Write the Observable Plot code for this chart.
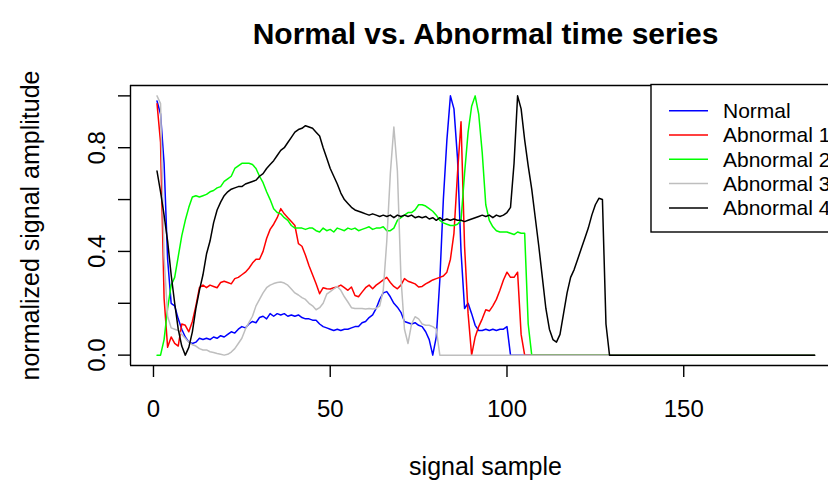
<!DOCTYPE html>
<html><head><meta charset="utf-8">
<script src="https://cdn.jsdelivr.net/npm/d3@7"></script>
<script src="https://cdn.jsdelivr.net/npm/@observablehq/plot@0.6"></script>
<style>
html,body{margin:0;padding:0;background:#fff;}
#chart{width:828px;height:491px;overflow:hidden;}
</style></head><body><div id="chart"></div>
<script>
const normal = [
0.98,0.93,0.74,0.37,0.20,0.19,0.14,0.10,0.07,0.05,
0.045,0.05,0.065,0.06,0.065,0.06,0.07,0.065,0.075,0.07,
0.08,0.09,0.085,0.10,0.11,0.105,0.12,0.13,0.125,0.145,
0.15,0.14,0.16,0.15,0.16,0.155,0.16,0.15,0.155,0.15,
0.155,0.145,0.14,0.14,0.135,0.135,0.12,0.11,0.105,0.10,
0.095,0.10,0.095,0.10,0.10,0.105,0.11,0.11,0.125,0.13,
0.145,0.155,0.18,0.215,0.24,0.245,0.225,0.20,0.185,0.165,
0.13,0.125,0.12,0.125,0.115,0.11,0.09,0.06,0.0,0.07,
0.29,0.60,0.83,1.0,0.95,0.76,0.40,0.18,0.20,0.16,
0.115,0.095,0.095,0.10,0.095,0.10,0.095,0.10,0.10,0.11,
0,0,0,0,0,0,0,0,0,0,
0,0,0,0,0,0,0,0,0,0,
0,0,0,0,0,0,0,0,0,0,
0,0,0,0,0,0,0,0,0,0,
0,0,0,0,0,0,0,0,0,0,
0,0,0,0,0,0,0,0,0,0,
0,0,0,0,0,0,0,0,0,0,
0,0,0,0,0,0,0,0,0,0,
0,0,0,0,0,0,0
];
const abnormal1 = [
0.97,0.82,0.22,0.03,0.07,0.045,0.035,0.12,0.115,0.09,
0.13,0.19,0.26,0.27,0.26,0.27,0.265,0.26,0.28,0.285,
0.28,0.275,0.295,0.30,0.31,0.32,0.335,0.355,0.37,0.37,
0.40,0.45,0.485,0.505,0.53,0.565,0.545,0.53,0.515,0.50,
0.43,0.42,0.385,0.345,0.31,0.275,0.237,0.26,0.256,0.255,
0.26,0.263,0.27,0.26,0.25,0.263,0.23,0.225,0.243,0.26,
0.27,0.256,0.27,0.28,0.29,0.30,0.28,0.265,0.256,0.27,
0.295,0.285,0.28,0.275,0.263,0.265,0.275,0.282,0.29,0.295,
0.30,0.305,0.32,0.37,0.47,0.70,0.90,0.42,0.16,0.0,
0.07,0.11,0.14,0.175,0.17,0.19,0.215,0.25,0.29,0.32,
0.30,0.30,0.32,0.08,0,0,0,0,0,0,
0,0,0,0,0,0,0,0,0,0,
0,0,0,0,0,0,0,0,0,0,
0,0,0,0,0,0,0,0,0,0,
0,0,0,0,0,0,0,0,0,0,
0,0,0,0,0,0,0,0,0,0,
0,0,0,0,0,0,0,0,0,0,
0,0,0,0,0,0,0,0,0,0,
0,0,0,0,0,0,0
];
const abnormal2 = [
0.0,0.0,0.06,0.18,0.27,0.30,0.38,0.46,0.52,0.57,
0.61,0.615,0.61,0.615,0.62,0.63,0.635,0.645,0.65,0.67,
0.68,0.69,0.72,0.73,0.74,0.74,0.74,0.735,0.72,0.69,
0.665,0.63,0.60,0.565,0.55,0.545,0.53,0.52,0.50,0.49,
0.49,0.49,0.485,0.49,0.49,0.48,0.475,0.49,0.48,0.485,
0.475,0.49,0.485,0.48,0.49,0.485,0.49,0.48,0.485,0.49,
0.495,0.485,0.49,0.49,0.495,0.48,0.48,0.49,0.52,0.53,
0.54,0.55,0.55,0.56,0.58,0.58,0.575,0.565,0.555,0.54,
0.52,0.51,0.505,0.50,0.50,0.505,0.52,0.70,0.86,0.96,
1.0,0.93,0.78,0.58,0.52,0.495,0.48,0.475,0.475,0.475,
0.47,0.465,0.475,0.47,0.47,0.12,0,0,0,0,
0,0,0,0,0,0,0,0,0,0,
0,0,0,0,0,0,0,0,0,0,
0,0,0,0,0,0,0,0,0,0,
0,0,0,0,0,0,0,0,0,0,
0,0,0,0,0,0,0,0,0,0,
0,0,0,0,0,0,0,0,0,0,
0,0,0,0,0,0,0,0,0,0,
0,0,0,0,0,0,0
];
const abnormal3 = [
1.0,0.97,0.38,0.15,0.105,0.10,0.095,0.08,0.065,0.05,
0.04,0.035,0.025,0.02,0.02,0.013,0.01,0.006,0.003,0.0,
0.003,0.012,0.025,0.045,0.065,0.10,0.125,0.15,0.19,0.215,
0.24,0.26,0.27,0.276,0.28,0.282,0.278,0.27,0.255,0.24,
0.232,0.222,0.215,0.20,0.19,0.175,0.183,0.20,0.235,0.245,
0.255,0.265,0.25,0.225,0.205,0.183,0.18,0.18,0.18,0.178,
0.18,0.178,0.18,0.19,0.25,0.44,0.70,0.88,0.71,0.30,
0.10,0.045,0.12,0.148,0.14,0.12,0.115,0.115,0.11,0.10,
0,0,0,0,0,0,0,0,0,0,
0,0,0,0,0,0,0,0,0,0,
0,0,0,0,0,0,0,0,0,0,
0,0,0,0,0,0,0,0,0,0,
0,0,0,0,0,0,0,0,0,0,
0,0,0,0,0,0,0,0,0,0,
0,0,0,0,0,0,0,0,0,0,
0,0,0,0,0,0,0,0,0,0,
0,0,0,0,0,0,0,0,0,0,
0,0,0,0,0,0,0,0,0,0,
0,0,0,0,0,0,0
];
const abnormal4 = [
0.71,0.63,0.54,0.44,0.31,0.20,0.10,0.035,0.0,0.03,
0.09,0.18,0.25,0.31,0.39,0.44,0.51,0.56,0.59,0.615,
0.63,0.64,0.645,0.65,0.65,0.66,0.665,0.67,0.675,0.69,
0.70,0.72,0.735,0.75,0.77,0.79,0.80,0.82,0.84,0.86,
0.87,0.875,0.885,0.88,0.875,0.86,0.845,0.80,0.76,0.72,
0.69,0.66,0.625,0.60,0.585,0.57,0.56,0.555,0.55,0.545,
0.54,0.545,0.54,0.535,0.54,0.535,0.54,0.53,0.54,0.535,
0.54,0.535,0.54,0.53,0.535,0.53,0.535,0.525,0.53,0.52,
0.53,0.52,0.525,0.52,0.525,0.52,0.52,0.515,0.52,0.525,
0.53,0.535,0.54,0.535,0.54,0.53,0.54,0.535,0.54,0.55,
0.57,0.74,1.0,0.95,0.83,0.73,0.64,0.53,0.42,0.30,
0.18,0.10,0.06,0.05,0.08,0.16,0.24,0.30,0.33,0.37,
0.41,0.45,0.49,0.54,0.58,0.605,0.60,0.12,0,0,
0,0,0,0,0,0,0,0,0,0,
0,0,0,0,0,0,0,0,0,0,
0,0,0,0,0,0,0,0,0,0,
0,0,0,0,0,0,0,0,0,0,
0,0,0,0,0,0,0,0,0,0,
0,0,0,0,0,0,0
];
const seriesNames = ["Normal", "Abnormal 1", "Abnormal 2", "Abnormal 3", "Abnormal 4"];
const seriesColors = ["#0000ff", "#ff0000", "#00ff00", "#bebebe", "#000000"];
const xTicks = [0, 50, 100, 150];
const yTicks = [0, 0.2, 0.4, 0.6, 0.8, 1.0];
const yTickLabels = [0, 0.4, 0.8];
const titleText = "Normal vs. Abnormal time series";
const xLabelText = "signal sample";
const yLabelText = "normalized signal amplitude";

const seriesData = [normal, abnormal1, abnormal2, abnormal3, abnormal4];
const rows = seriesData.flatMap((arr, s) => arr.map((v, i) => ({series: seriesNames[s], x: i + 1, y: v})));

const font = "'Liberation Sans', Arial, Helvetica, sans-serif";
const xDomain = [-6.5, 190.95];
const yDomain = [-0.04, 1.04];

const plot = Plot.plot({
  width: 828, height: 491,
  marginLeft: 130, marginRight: 0, marginTop: 85, marginBottom: 126,
  x: {domain: xDomain},
  y: {domain: yDomain},
  color: {domain: seriesNames, range: seriesColors},
  style: {fontFamily: font, background: "white", color: "black"},
  marks: [
    Plot.line(rows, {x: "x", y: "y", z: "series", stroke: "series", strokeWidth: 1.5}),
    Plot.ruleX([xDomain[0]], {stroke: "black", strokeWidth: 1.4}),
    Plot.ruleY(yDomain, {stroke: "black", strokeWidth: 1.4}),
    Plot.axisX({ticks: xTicks, tickSize: 12, tickPadding: 22, fontSize: 24, tickFormat: d => String(d), label: null, strokeWidth: 1.4}),
    Plot.axisY({ticks: yTicks, tickSize: 12, tickFormat: () => "", label: null, strokeWidth: 1.4}),
    Plot.text(yTickLabels, {y: d => d, text: d => d.toFixed(1), frameAnchor: "left", textAnchor: "middle", dx: -33, rotate: -90, fontSize: 24}),
    Plot.text([titleText], {frameAnchor: "top", dx: 6, dy: -63, fontSize: 30, fontWeight: "bold"}),
    Plot.text([xLabelText], {frameAnchor: "bottom", dx: 6, dy: 109, fontSize: 25}),
    Plot.text([yLabelText], {frameAnchor: "left", textAnchor: "middle", dx: -100, rotate: -90, fontSize: 25})
  ]
});

const svg = d3.select(plot);
const lg = svg.append("g").attr("font-family", font);
lg.append("rect").attr("x", 651).attr("y", 84.5).attr("width", 260).attr("height", 147.5)
  .attr("fill", "white").attr("stroke", "black").attr("stroke-width", 1.4);
seriesNames.forEach((name, k) => {
  const yy = 110.7 + 24.3 * k;
  lg.append("line").attr("x1", 669).attr("x2", 708).attr("y1", yy).attr("y2", yy)
    .attr("stroke", seriesColors[k]).attr("stroke-width", 1.5);
  lg.append("text").attr("x", 723).attr("y", yy).attr("dy", "0.35em")
    .attr("text-anchor", "start").attr("font-size", 21).attr("fill", "black").text(name);
});

document.getElementById("chart").appendChild(plot);
</script>
</body></html>
